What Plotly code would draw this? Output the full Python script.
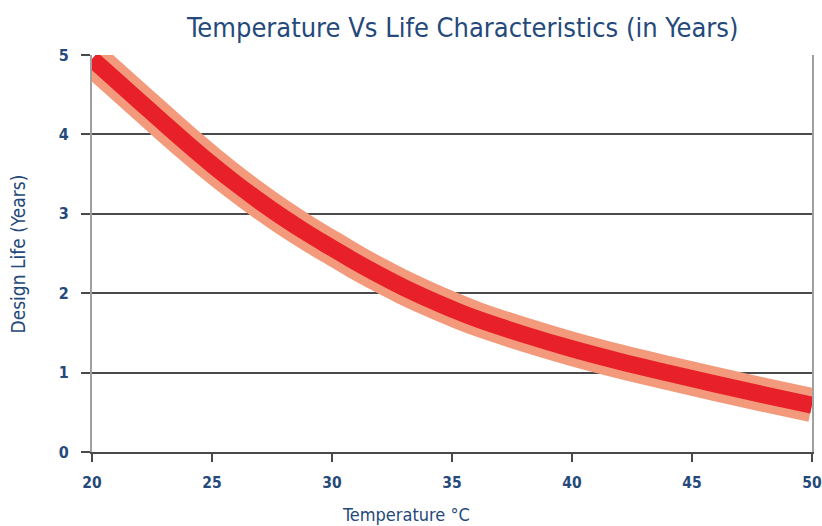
import plotly.graph_objects as go

temperature = [20, 21, 22, 23, 24, 25, 26, 27, 28, 29, 30, 31, 32, 33, 34, 35, 36, 38, 40, 42, 44, 46, 48, 50]
design_life = [4.95, 4.68, 4.41, 4.14, 3.875, 3.62, 3.38, 3.155, 2.945, 2.75, 2.57, 2.39, 2.225, 2.07, 1.93, 1.80, 1.68, 1.48, 1.30, 1.14, 0.995, 0.855, 0.72, 0.59]
x_ticks = [20, 25, 30, 35, 40, 45, 50]
y_ticks = [0, 1, 2, 3, 4, 5]

navy = "#24497a"
font_family = "DejaVu Sans Condensed, Liberation Sans Narrow, Arial Narrow, sans-serif"

fig = go.Figure()
fig.add_trace(go.Scatter(x=temperature, y=design_life, mode="lines",
                         line=dict(color="#f39a7c", width=34, shape="spline", smoothing=1),
                         hoverinfo="skip", showlegend=False))
fig.add_trace(go.Scatter(x=temperature, y=design_life, mode="lines",
                         line=dict(color="#e8202a", width=17, shape="spline", smoothing=1),
                         showlegend=False))

fig.update_layout(
    width=822, height=526,
    margin=dict(l=92, r=10, t=55, b=74),
    paper_bgcolor="white", plot_bgcolor="white",
    title=dict(text="Temperature Vs Life Characteristics (in Years)",
               x=0.515, xref="paper", xanchor="center", y=0.947, yanchor="middle",
               font=dict(family=font_family, size=27, color=navy)),
    font=dict(family=font_family, color=navy),
    annotations=[
        dict(text="Temperature °C", xref="paper", yref="paper", x=0.436, y=-0.158,
             xanchor="center", yanchor="middle", showarrow=False,
             font=dict(family=font_family, size=18, color=navy)),
        dict(text="Design Life (Years)", xref="paper", yref="paper", x=-0.1028, y=0.5,
             xanchor="center", yanchor="middle", showarrow=False, textangle=-90,
             font=dict(family=font_family, size=19, color=navy)),
    ],
)
fig.update_xaxes(range=[20, 50], tickvals=x_ticks, ticktext=[str(v) for v in x_ticks],
                 showgrid=False, zeroline=False, automargin=False,
                 showline=True, linecolor="#4a4a4a", linewidth=2,
                 ticks="outside", ticklen=8, tickwidth=2, tickcolor="#4a4a4a",
                 ticklabelstandoff=7, ticklabeloverflow="allow",
                 tickfont=dict(family=font_family, size=15.5, color=navy, weight="bold"))
fig.update_yaxes(range=[0, 5], tickvals=y_ticks, ticktext=[str(v) for v in y_ticks],
                 showgrid=True, gridcolor="#4a4a4a", gridwidth=2, zeroline=False,
                 automargin=False,
                 showline=True, linecolor="#a0a0a0", linewidth=2, mirror=True,
                 ticks="outside", ticklen=9, tickwidth=2, tickcolor="#4a4a4a",
                 ticklabelstandoff=9, ticklabeloverflow="allow",
                 tickfont=dict(family=font_family, size=16, color=navy, weight="bold"))

# remove the default page margin so the 822x526 figure fills the window exactly
post = ("document.documentElement.style.margin='0';"
        "document.documentElement.style.overflow='hidden';"
        "document.body.style.margin='0';document.body.style.overflow='hidden';")
fig.write_html("out.html", post_script=post,
               config={"displayModeBar": False, "displaylogo": False})
